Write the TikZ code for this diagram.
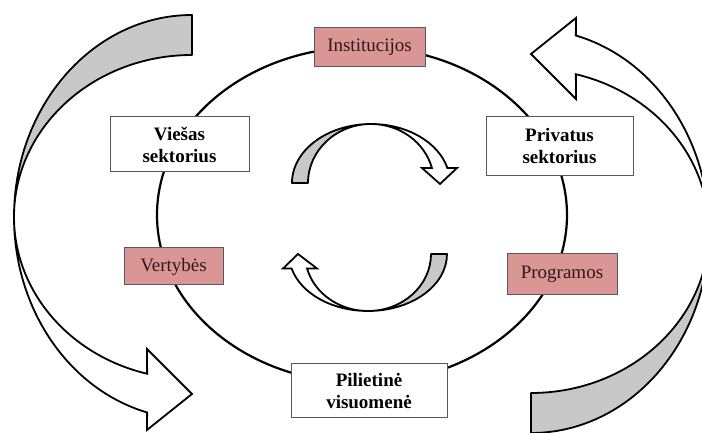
\documentclass[tikz,border=0pt]{standalone}
\usepackage{fontspec}
\setmainfont{Liberation Serif}
\usepackage{tikz}
\usetikzlibrary{calc}

\definecolor{boxpink}{RGB}{217,150,148}
\definecolor{backgray}{RGB}{200,200,200}
\definecolor{boxtext}{RGB}{50,25,25}

\begin{document}
\begin{tikzpicture}[
    x=1pt, y=1pt,
    pinkbox/.style={rectangle, draw=black!65, line width=1pt, fill=boxpink, inner sep=0pt, align=center, text=boxtext, font=\fontsize{19}{22}\selectfont},
    whitebox/.style={rectangle, draw=black!65, line width=1pt, fill=white, inner sep=0pt, align=center, font=\fontsize{19}{22}\selectfont\bfseries},
    cycleline/.style={draw=black, line width=2.2pt},
    backside/.style={draw=black, line width=1.8pt, fill=backgray, line join=round},
    frontside/.style={draw=black, line width=1.8pt, fill=white, line join=miter}
]
    \useasboundingbox (0,0) rectangle (702,433);

    % centres of the curved arrows
    \coordinate (cl) at (192,216);
    \coordinate (cr) at (531,202);
    \coordinate (ct) at (371,250);
    \coordinate (cb) at (368,179);
    \coordinate (mid) at (362,218);

    % Outer arrows
    \draw[backside] ($(cl)+(90:178 and 202)$) arc[start angle=90, end angle=180, x radius=178, y radius=202]
        arc[start angle=180, end angle=90, x radius=178, y radius=162] -- cycle;
    \draw[frontside] ($(cl)+(180:178 and 202)$) arc[start angle=180, end angle=255.4, x radius=178, y radius=202]
        -- ($(cl)+(-45,-213)$) -- ($(cl)+(0,-177)$) -- ($(cl)+(-45,-132)$)
        -- ($(cl)+(255.4:178 and 162)$) arc[start angle=255.4, end angle=180, x radius=178, y radius=162] -- cycle;

    \draw[backside] ($(cr)+(270:178 and 202)$) arc[start angle=270, end angle=360, x radius=178, y radius=202]
        arc[start angle=0, end angle=-90, x radius=178, y radius=162] -- cycle;
    \draw[frontside] ($(cr)+(0:178 and 202)$) arc[start angle=0, end angle=75.4, x radius=178, y radius=202]
        -- ($(cr)+(45,213)$) -- ($(cr)+(0,177)$) -- ($(cr)+(45,132)$)
        -- ($(cr)+(75.4:178 and 162)$) arc[start angle=75.4, end angle=0, x radius=178, y radius=162] -- cycle;

    % Cycle
    \draw[cycleline] (mid) ellipse[x radius=205, y radius=168];

    \node[pinkbox, minimum width=111, minimum height=39] (inst) at (369.5,385.5) {Institucijos};
    \node[whitebox, minimum width=139, minimum height=55] (viesas) at (179.5,288.5) {Viešas\\sektorius};
    \node[pinkbox, minimum width=99, minimum height=37] (vert) at (173.5,166.5) {Vertybės};
    \node[whitebox, minimum width=147, minimum height=59] (priv) at (559.5,286.5) {Privatus\\sektorius};
    \node[pinkbox, minimum width=110, minimum height=41] (prog) at (562,158.5) {Programos};
    \node[whitebox, minimum width=156, minimum height=54] (pil) at (369,42) {Pilietinė\\visuomenė};

    % Inner arrows
    \draw[backside] ($(ct)+(180:79 and 59)$) arc[start angle=180, end angle=90, x radius=79, y radius=59]
        arc[start angle=90, end angle=180, x radius=63, y radius=59] -- cycle;
    \draw[frontside] ($(ct)+(90:79 and 59)$) arc[start angle=90, end angle=14.7, x radius=79, y radius=59]
        -- ($(ct)+(86,15)$) -- ($(ct)+(69,-1)$) -- ($(ct)+(51,15)$)
        -- ($(ct)+(14.7:63 and 59)$) arc[start angle=14.7, end angle=90, x radius=63, y radius=59] -- cycle;

    \draw[backside] ($(cb)+(0:79 and 57)$) arc[start angle=0, end angle=-90, x radius=79, y radius=57]
        arc[start angle=270, end angle=360, x radius=63, y radius=57] -- cycle;
    \draw[frontside] ($(cb)+(270:79 and 57)$) arc[start angle=270, end angle=194.7, x radius=79, y radius=57]
        -- ($(cb)+(-85,-14.5)$) -- ($(cb)+(-70,0)$) -- ($(cb)+(-51,-14.5)$)
        -- ($(cb)+(194.7:63 and 57)$) arc[start angle=194.7, end angle=270, x radius=63, y radius=57] -- cycle;
\end{tikzpicture}
\end{document}
